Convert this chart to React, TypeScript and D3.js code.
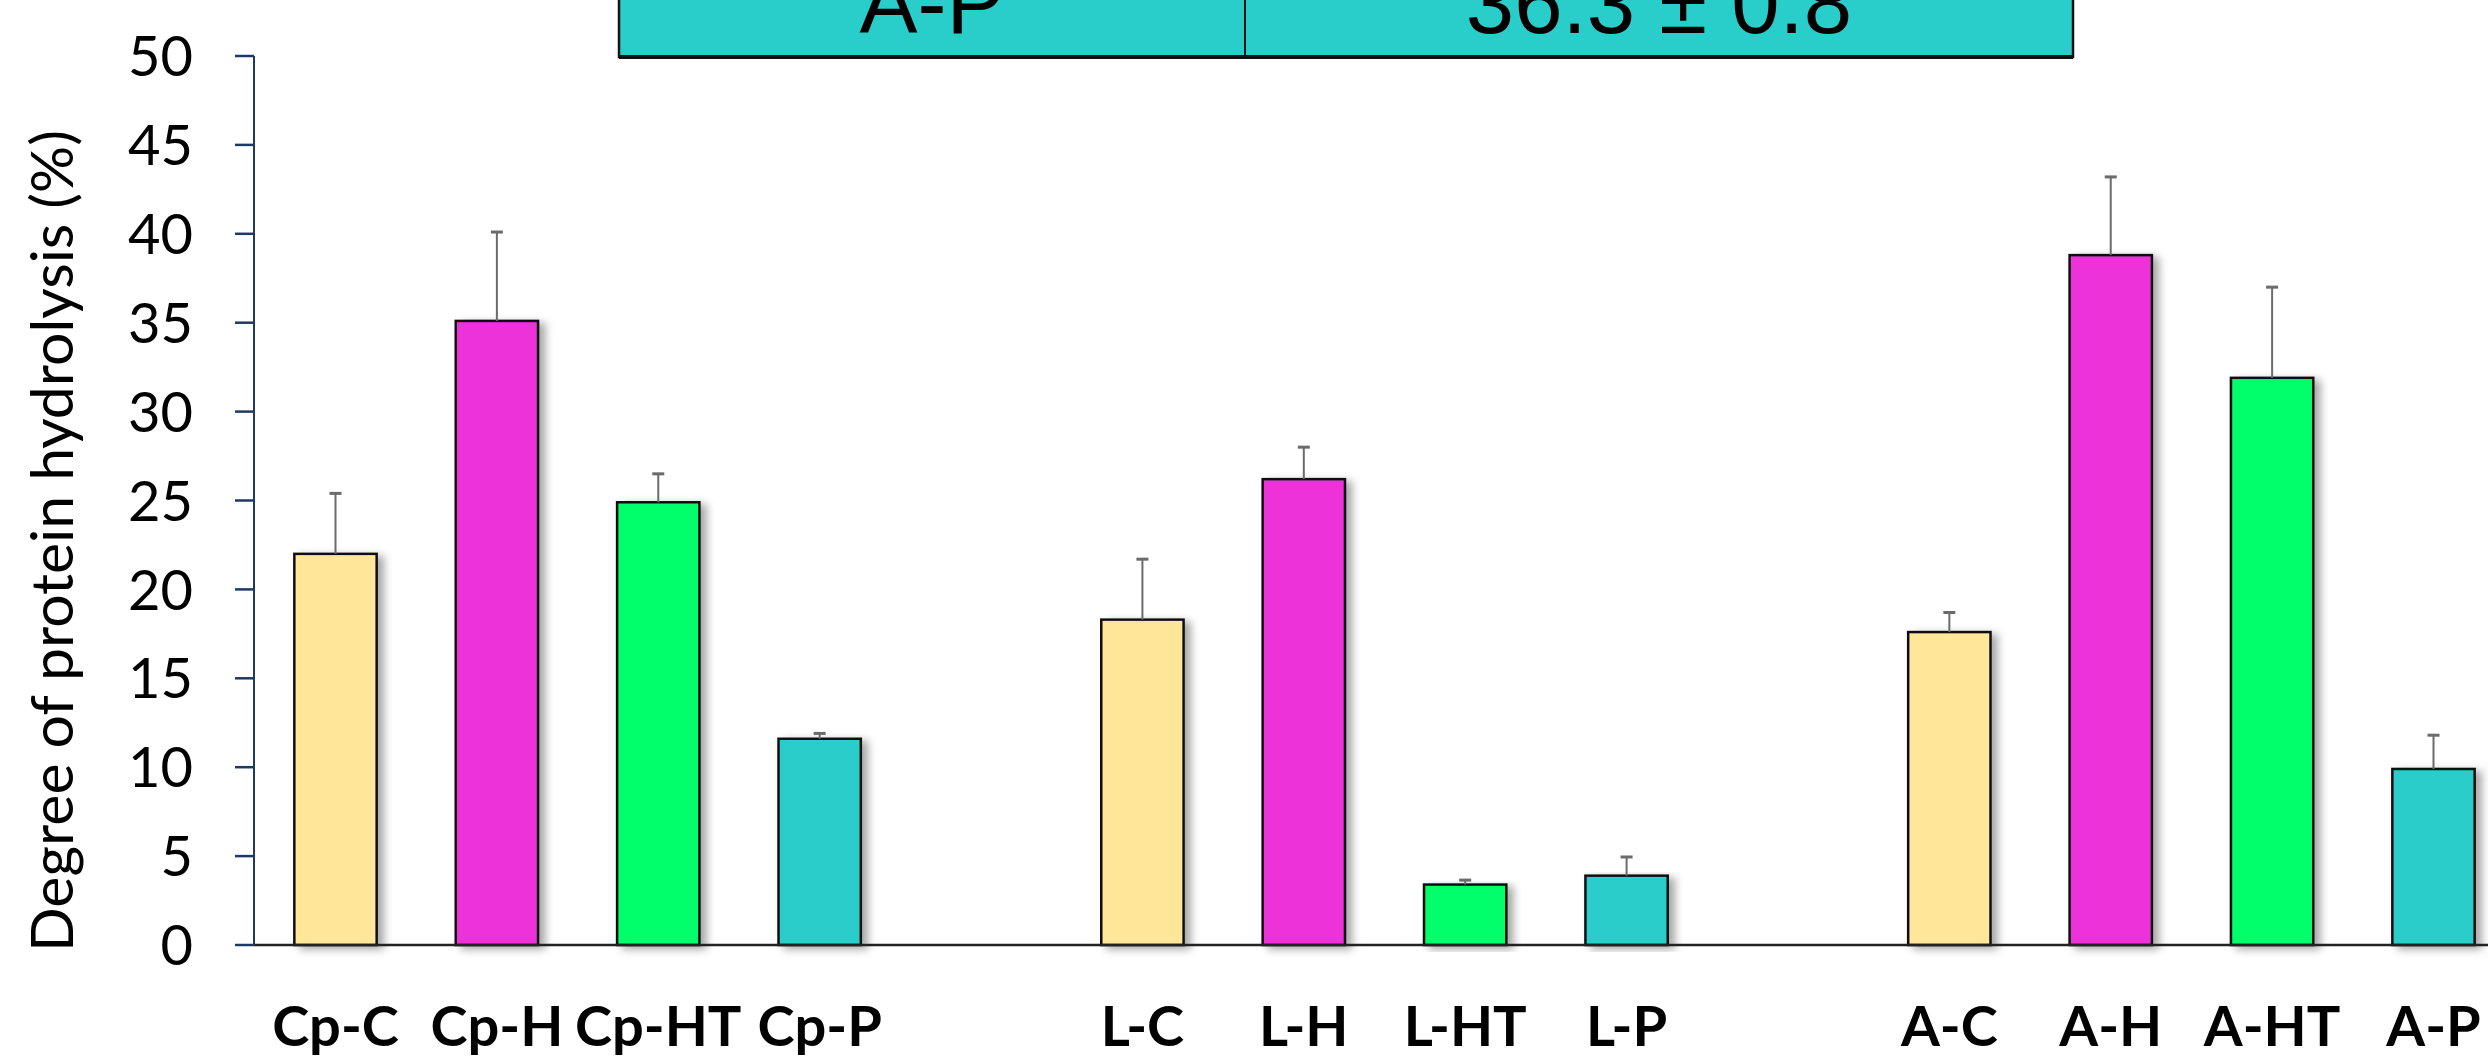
import React from 'react';
import * as d3 from 'd3';

// sample labels, in plotting order
const groups = ['Cp', 'L', 'A'];
const treatments = ['C', 'H', 'HT', 'P'];
const treatmentColors = ['#FFE699', '#EE33D9', '#05FF69', '#29CDC9'];

// degree of hydrolysis (%), mean and SD
const means = [22.0, 35.1, 24.9, 11.6, 18.3, 26.2, 3.4, 3.9, 17.6, 38.8, 31.9, 9.9];
const errors = [3.4, 5.0, 1.6, 0.3, 3.4, 1.8, 0.25, 1.05, 1.1, 4.4, 5.1, 1.9];

const yTicks = [0, 5, 10, 15, 20, 25, 30, 35, 40, 45, 50];
const yTitle = 'Degree of protein hydrolysis (%)';

// the one visible row of the inset table
const tableRow = ['A-P', '36.3 ± 0.8'];

const W = 2488;
const H = 1057;

const App = () => {
	const bars = groups.flatMap((g, gi) => treatments.map((t, ti) => ({
		label: `${ g }-${ t }`,
		value: means[gi * 4 + ti],
		err: errors[gi * 4 + ti],
		color: treatmentColors[ti]
	})));
	// one empty slot between groups
	const slots = groups.flatMap((g, gi) => {
		const s = treatments.map((t) => `${ g }-${ t }`);
		return gi < groups.length - 1 ? [...s, `gap${ gi }`] : s;
	});

	const x = d3.scaleBand().domain(slots)
		.range([254, 2515])
		.paddingInner(0.49)
		.paddingOuter(0.25);
	const y = d3.scaleLinear().domain([0, 50])
		.range([945, 56]);
	const bw = x.bandwidth();

	return (
		<svg width={ W } height={ H } style={{ position: 'absolute', left: 0, top: 0, background: '#fff' }}>
			<defs>
				<filter id="shadow" x="-20%" y="-5%" width="150%" height="115%">
					<feDropShadow dx="6" dy="3" stdDeviation="4" floodColor="#000" floodOpacity="0.35"/>
				</filter>
			</defs>

			{/* inset table */}
			<g>
				<rect x={ 619 } y={ -20 } width={ 2073 - 619 } height={ 77 } fill="#29CDC9" stroke="#111" strokeWidth={ 2.5 }/>
				<line x1={ 619 } x2={ 2073 } y1={ 57 } y2={ 57 } stroke="#111" strokeWidth={ 4 }/>
				<line x1={ 1245 } x2={ 1245 } y1={ 0 } y2={ 57 } stroke="#111" strokeWidth={ 2 }/>
				<text x={ 932 } y={ 33 } textAnchor="middle" fontFamily="Liberation Sans, Arial" fontSize={ 87 } fill="#000">{ tableRow[0] }</text>
				<text x={ 1659 } y={ 33 } textAnchor="middle" fontFamily="Liberation Sans, Arial" fontSize={ 87 } fill="#000">{ tableRow[1] }</text>
			</g>

			{/* bars */}
			{ bars.map((d) => (
				<rect key={ d.label } x={ x(d.label) } y={ y(d.value) } width={ bw } height={ y(0) - y(d.value) }
					fill={ d.color } stroke="#111" strokeWidth={ 2.5 } filter="url(#shadow)"/>
			)) }

			{/* error bars, upper only */}
			{ bars.map((d) => {
				const cx = x(d.label) + bw / 2;
				return (
					<g key={ `e-${ d.label }` } stroke="#6b6b6b">
						<line x1={ cx } x2={ cx } y1={ y(d.value) } y2={ y(d.value + d.err) } strokeWidth={ 2 }/>
						<line x1={ cx - 6 } x2={ cx + 6 } y1={ y(d.value + d.err) } y2={ y(d.value + d.err) } strokeWidth={ 3 }/>
					</g>
				);
			}) }

			{/* axes */}
			<line x1={ 254 } x2={ W } y1={ y(0) } y2={ y(0) } stroke="#222" strokeWidth={ 2.5 }/>
			<line x1={ 254 } x2={ 254 } y1={ y(50) } y2={ y(0) } stroke="#1F3864" strokeWidth={ 2 }/>
			{ yTicks.map((t) => (
				<g key={ t }>
					<line x1={ 235 } x2={ 254 } y1={ y(t) } y2={ y(t) } stroke="#1F3864" strokeWidth={ 2.5 }/>
					<text x={ 193 } y={ y(t) } dy="0.36em" textAnchor="end" fontFamily="Lato, Noto Sans" fontSize={ 56 } fill="#000">{ t }</text>
				</g>
			)) }

			<text transform={ `translate(73, ${ 541 }) rotate(-90)` } textAnchor="middle" fontFamily="Lato, Noto Sans"
				fontSize={ 58 } fill="#000" textLength={ 822 } lengthAdjust="spacingAndGlyphs">{ yTitle }</text>

			{ bars.map((d) => (
				<text key={ `l-${ d.label }` } x={ x(d.label) + bw / 2 } y={ 1046 } textAnchor="middle"
					fontFamily="Lato, Noto Sans" fontWeight={ 700 } fontSize={ 56 } fill="#000">{ d.label }</text>
			)) }
		</svg>
	);
};

export default App;
